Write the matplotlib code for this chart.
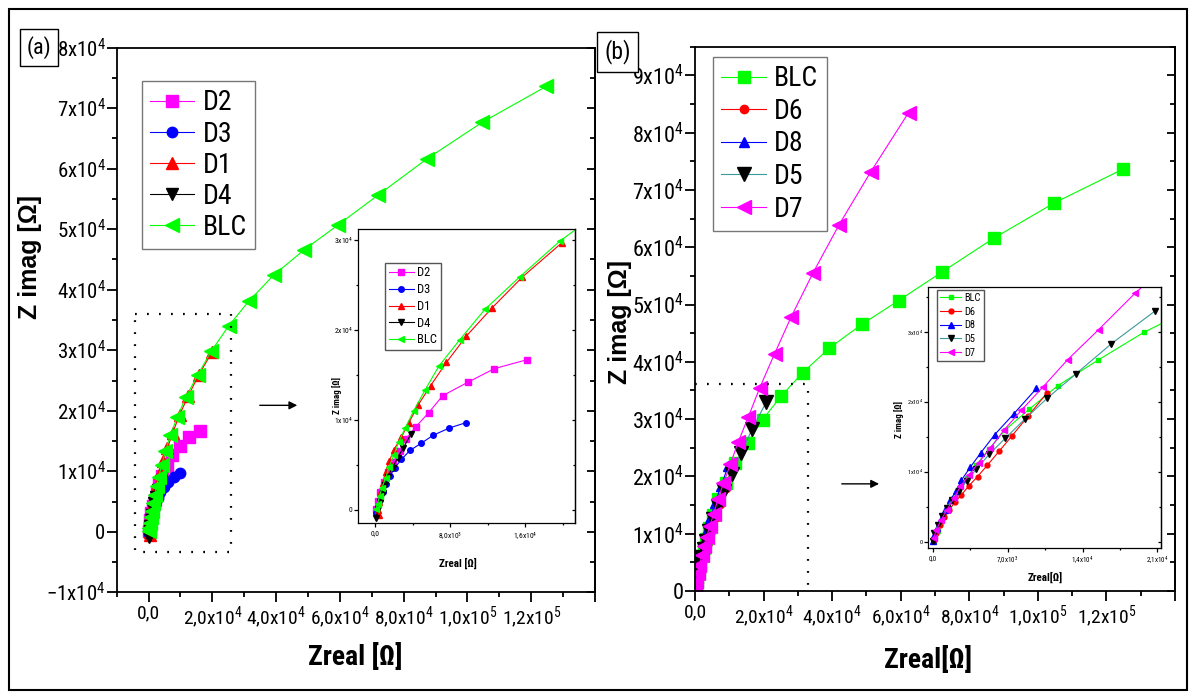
import numpy as np
import matplotlib.pyplot as plt
from matplotlib import font_manager as fm
from matplotlib.ticker import MultipleLocator
from matplotlib.patches import Rectangle

# values in kOhm (Zreal, Zimag)
blc_x = [0.1, 0.25, 0.46, 0.7, 1.1, 1.5, 2.0, 2.5, 3.2, 4.1, 5.3, 6.8, 9.0, 11.7, 15.4, 19.7,
         25.1, 31.4, 39.2, 48.8, 59.4, 72.1, 87.2, 104.7, 124.7]
blc_y = [0.1, 0.7, 1.5, 2.4, 3.5, 4.8, 6.1, 7.5, 9.1, 11.0, 13.3, 16.0, 18.9, 22.3, 25.9, 29.9,
         34.0, 38.1, 42.4, 46.6, 50.7, 55.7, 61.6, 67.7, 73.6]

# panel (a)
d1_x = [0.4, 0.35, 0.4, 0.55, 0.8, 1.1, 1.5, 2.0, 2.8, 3.6, 4.6, 5.9, 7.6, 9.7, 12.4, 15.7, 19.9]
d1_y = [-0.6, 0.0, 0.9, 1.9, 3.0, 4.2, 5.4, 6.7, 8.1, 9.7, 11.7, 13.8, 16.4, 19.3, 22.4, 25.9, 29.7]
d2_x = [0.1, 0.3, 0.55, 0.9, 1.35, 1.9, 2.6, 3.3, 4.3, 5.7, 7.2, 9.9, 12.7, 16.2]
d2_y = [0.1, 1.0, 2.0, 3.1, 4.2, 5.3, 6.5, 7.9, 9.2, 10.8, 12.7, 14.2, 15.7, 16.7]
d3_x = [0.1, 0.35, 0.5, 0.8, 1.2, 1.6, 2.1, 2.8, 3.7, 4.9, 6.2, 7.9, 9.7]
d3_y = [-0.3, 0.4, 1.1, 2.0, 2.9, 3.8, 4.7, 5.6, 6.6, 7.4, 8.3, 9.1, 9.7]
d4_x = [0.1, 0.3, 0.5, 0.8, 1.0, 1.35, 1.85, 2.4, 3.0, 3.8]
d4_y = [-0.9, 0.1, 0.9, 1.9, 2.8, 3.7, 4.7, 5.8, 6.9, 8.4]

# panel (b)
d5_x = [0.03, 0.15, 0.5, 0.9, 1.3, 1.8, 2.5, 3.2, 4.1, 5.3, 6.8, 8.6, 10.7, 13.4, 16.7, 20.8]
d5_y = [0.1, 1.2, 2.4, 3.6, 4.8, 6.0, 7.3, 8.7, 10.4, 12.5, 14.8, 17.5, 20.5, 24.0, 28.3, 33.0]
d6_x = [0.1, 0.35, 0.7, 1.1, 1.55, 2.05, 2.7, 3.4, 4.2, 5.1, 6.2, 7.4, 8.9, 10.7]
d6_y = [0.2, 1.3, 2.4, 3.5, 4.5, 5.6, 6.7, 8.0, 9.3, 10.9, 12.9, 15.1, 17.9, 21.3]
d8_x = [0.03, 0.15, 0.4, 0.8, 1.2, 1.65, 2.2, 2.7, 3.5, 4.5, 5.8, 7.6, 9.7]
d8_y = [0.1, 1.0, 2.0, 3.3, 4.5, 6.0, 7.2, 8.8, 10.6, 12.7, 15.3, 18.3, 21.9]
d7_x = [0.1, 0.35, 0.8, 1.3, 2.0, 2.6, 3.4, 4.3, 5.4, 6.7, 8.3, 10.3, 12.6, 15.5, 18.9,
        23.2, 28.1, 34.4, 42.0, 51.2, 62.3]
d7_y = [0.5, 1.7, 3.1, 4.5, 6.2, 7.9, 9.5, 11.3, 13.4, 16.0, 18.8, 22.1, 26.0, 30.3, 35.5,
        41.4, 47.9, 55.5, 63.9, 73.1, 83.5]

# ticks
a_xticks = [0, 2e4, 4e4, 6e4, 8e4, 1e5, 1.2e5, 1.4e5]
a_xlabels = ['0,0', '2,0x10^4', '4,0x10^4', '6,0x10^4', '8,0x10^4', '1,0x10^5', '1,2x10^5', '']
a_yticks = [-1e4, 0, 1e4, 2e4, 3e4, 4e4, 5e4, 6e4, 7e4, 8e4]
a_ylabels = ['-1x10^4', '0', '1x10^4', '2x10^4', '3x10^4', '4x10^4', '5x10^4', '6x10^4', '7x10^4', '8x10^4']
b_yticks = [0, 1e4, 2e4, 3e4, 4e4, 5e4, 6e4, 7e4, 8e4, 9e4]
b_ylabels = ['0', '1x10^4', '2x10^4', '3x10^4', '4x10^4', '5x10^4', '6x10^4', '7x10^4', '8x10^4', '9x10^4']
ia_xticks = [0, 8e3, 1.6e4]
ia_xlabels = ['0,0', '8,0x10^3', '1,6x10^4']
ib_xticks = [0, 7e3, 1.4e4, 2.1e4]
ib_xlabels = ['0,0', '7,0x10^3', '1,4x10^4', '2,1x10^4']
in_yticks = [0, 1e4, 2e4, 3e4]
in_ylabels = ['0', '1x10^4', '2x10^4', '3x10^4']

K = 1e3
W, H = 1191, 696


def has_font(name):
    try:
        fm.findfont(fm.FontProperties(family=name), fallback_to_default=False)
        return True
    except ValueError:
        return False


# the original uses a narrow sans (Arial Narrow look)
narrow = None
for c in ['Liberation Sans Narrow', 'Arial Narrow', 'Noto Sans Condensed', 'Roboto Condensed']:
    if has_font(c):
        narrow = c
        break
sf = 1.0
if narrow is None:
    p = fm.findfont(fm.FontProperties(family='Noto Sans', stretch='condensed'))
    if 'ondensed' in p:
        narrow = fm.FontProperties(fname=p).get_name()
        plt.rcParams['font.stretch'] = 'condensed'
    else:
        narrow = 'Liberation Sans'
        sf = 0.84
plt.rcParams['font.family'] = [narrow, 'Liberation Sans', 'DejaVu Sans']
plt.rcParams['mathtext.default'] = 'regular'


def mt(s):
    if '^' in s:
        base, e = s.split('^')
        return '$' + base.replace(',', '{,}') + '^{' + e + '}$'
    return s


def box(l, t, r, b):
    return [l / W, 1 - b / H, (r - l) / W, (b - t) / H]


def setup(ax, xlim, ylim, xt, xl, yt, yl, xmin, ymin, fsx, fsy, lmaj, lmin, lw):
    ax.set_xlim(xlim)
    ax.set_ylim(ylim)
    ax.set_xticks(xt)
    ax.set_xticklabels([mt(s) for s in xl])
    ax.set_yticks(yt)
    ax.set_yticklabels([mt(s) for s in yl])
    ax.xaxis.set_minor_locator(MultipleLocator(xmin))
    ax.yaxis.set_minor_locator(MultipleLocator(ymin))
    ax.tick_params(which='both', direction='out', top=False, right=False, width=lw, pad=1)
    ax.tick_params(axis='x', labelsize=fsx * sf, pad=2)
    ax.tick_params(axis='y', labelsize=fsy * sf)
    ax.tick_params(which='major', length=lmaj)
    ax.tick_params(which='minor', length=lmin)
    for s in ax.spines.values():
        s.set_linewidth(lw)
    sec = ax.secondary_yaxis('right')
    sec.set_yticks(yt)
    sec.yaxis.set_minor_locator(MultipleLocator(ymin))
    sec.tick_params(which='both', direction='in', labelright=False, width=lw)
    sec.tick_params(which='major', length=lmaj * 0.8)
    sec.tick_params(which='minor', length=lmin)
    sec.spines['right'].set_linewidth(lw)


def series(ax, x, y, color, marker, ms, label, lcolor=None):
    ax.plot(np.array(x) * K, np.array(y) * K, color=lcolor or color, lw=0.8,
            marker=marker, ms=ms, mfc=color, mec=color, label=label)


def legend(ax, x, y, fs, hl, ls, ec='#777777'):
    ax.legend(loc='upper left', bbox_to_anchor=(x / W, 1 - y / H), bbox_transform=fig.transFigure,
              fontsize=fs * sf, frameon=True, fancybox=False, edgecolor=ec, framealpha=1,
              handlelength=hl, handletextpad=0.3, labelspacing=ls, borderpad=0.3, borderaxespad=0)


fig = plt.figure(figsize=(W / 100, H / 100), dpi=100)
fig.add_artist(Rectangle((9 / W, 1 - 690 / H), 1178 / W, 681 / H, fill=False,
                         lw=1.5, ec='black', transform=fig.transFigure))

# ---------------- panel (a)
ax = fig.add_axes(box(116.7, 47.7, 595, 592.3))
series(ax, d2_x, d2_y, '#ff00ff', 's', 8, 'D2')
series(ax, d3_x, d3_y, '#0000ff', 'o', 7.5, 'D3')
series(ax, d1_x, d1_y, '#ff0000', '^', 8.5, 'D1')
series(ax, d4_x, d4_y, '#000000', 'v', 8.5, 'D4')
series(ax, blc_x, blc_y, '#00ff00', '<', 10, 'BLC')
setup(ax, (-1e4, 1.4e5), (-1e4, 8e4), a_xticks, a_xlabels, a_yticks, a_ylabels,
      1e4, 5e3, 14, 15, 7, 3.5, 1.3)
ax.plot([-4.2e3, 25.7e3, 25.7e3, -4.2e3, -4.2e3], [36e3, 36e3, -3.3e3, -3.3e3, 36e3],
        color='black', lw=1.6, ls=(0, (0.8, 4.6)))
ax.annotate('', xy=(47.5e3, 20.9e3), xytext=(34e3, 20.9e3),
            arrowprops=dict(arrowstyle='-|>', color='black', lw=1, mutation_scale=12))
legend(ax, 141.7, 81, 20, 1.6, 0.15)

fig.text(30 / W, 1 - 257 / H, 'Z imag [Ω]', rotation=90, fontsize=18, fontweight='bold',
         family='Liberation Sans', stretch='normal', ha='center', va='center')
fig.text(355 / W, 1 - 657 / H, 'Zreal [Ω]', fontsize=20 * sf, fontweight='bold', ha='center', va='center')
fig.text(39 / W, 1 - 47.5 / H, '(a)', fontsize=16 * sf, ha='center', va='center',
         bbox=dict(boxstyle='square,pad=0.3', fc='white', ec='black', lw=1))

# inset (a)
ia = fig.add_axes(box(358.3, 229.3, 575, 523.3))
series(ia, d2_x, d2_y, '#ff00ff', 's', 4, 'D2')
series(ia, d3_x, d3_y, '#0000ff', 'o', 4, 'D3')
series(ia, d1_x, d1_y, '#ff0000', '^', 5, 'D1')
series(ia, d4_x, d4_y, '#000000', 'v', 5, 'D4')
series(ia, blc_x, blc_y, '#00ff00', '<', 5, 'BLC')
setup(ia, (-1.8e3, 2.13e4), (-1.5e3, 3.12e4), ia_xticks, ia_xlabels, in_yticks, in_ylabels,
      4e3, 5e3, 5.5, 5.5, 3, 1.5, 0.9)
legend(ia, 385, 262.7, 9, 2.0, 0.3, ec='#555555')
fig.text(337 / W, 1 - 395 / H, 'Z imag [Ω]', rotation=90, fontsize=6.5, fontweight='bold',
         ha='center', va='center')
fig.text(458 / W, 1 - 563 / H, 'Zreal [Ω]', fontsize=8 * sf, fontweight='bold', ha='center', va='center')

# ---------------- panel (b)
bx = fig.add_axes(box(695, 46.7, 1175, 591))
series(bx, blc_x, blc_y, '#00ff00', 's', 8, 'BLC')
series(bx, d6_x, d6_y, '#ff0000', 'o', 6, 'D6')
series(bx, d8_x, d8_y, '#0000ff', '^', 7, 'D8')
series(bx, d5_x, d5_y, '#000000', 'v', 9.5, 'D5', lcolor='#3a9a9a')
series(bx, d7_x, d7_y, '#ff00ff', '<', 10, 'D7')
setup(bx, (0, 1.4e5), (0, 9.5e4), a_xticks, a_xlabels, b_yticks, b_ylabels,
      1e4, 5e3, 14, 16, 7, 3.5, 1.3)
bx.plot([0, 33e3, 33e3], [36.1e3, 36.1e3, 0], color='black', lw=1.6, ls=(0, (0.8, 4.6)))
bx.annotate('', xy=(54.5e3, 18.7e3), xytext=(42e3, 18.7e3),
            arrowprops=dict(arrowstyle='-|>', color='black', lw=1, mutation_scale=12))
legend(bx, 713, 57, 20, 1.6, 0.2)

fig.text(620 / W, 1 - 322 / H, 'Z imag [Ω]', rotation=90, fontsize=18, fontweight='bold',
         family='Liberation Sans', stretch='normal', ha='center', va='center')
fig.text(928 / W, 1 - 660 / H, 'Zreal[Ω]', fontsize=20 * sf, fontweight='bold', ha='center', va='center')
fig.text(617.5 / W, 1 - 52 / H, '(b)', fontsize=17 * sf, ha='center', va='center',
         bbox=dict(boxstyle='square,pad=0.3', fc='white', ec='black', lw=1))

# inset (b)
ib = fig.add_axes(box(928.3, 287, 1160.7, 548.3))
series(ib, blc_x, blc_y, '#00ff00', 's', 3.5, 'BLC')
series(ib, d6_x, d6_y, '#ff0000', 'o', 3.5, 'D6')
series(ib, d8_x, d8_y, '#0000ff', '^', 4, 'D8')
series(ib, d5_x, d5_y, '#000000', 'v', 4, 'D5', lcolor='#3a9a9a')
series(ib, d7_x, d7_y, '#ff00ff', '<', 4, 'D7')
setup(ib, (-0.4e3, 2.13e4), (-0.95e3, 3.64e4), ib_xticks, ib_xlabels, in_yticks, in_ylabels,
      3.5e3, 5e3, 5, 4.5, 3, 1.5, 0.9)
legend(ib, 937, 290, 7.5, 2.0, 0.35, ec='#555555')
fig.text(899 / W, 1 - 420 / H, 'Z imag [Ω]', rotation=90, fontsize=6.5, fontweight='bold',
         ha='center', va='center')
fig.text(1045 / W, 1 - 577 / H, 'Zreal[Ω]', fontsize=8 * sf, fontweight='bold', ha='center', va='center')

fig.savefig('out.png', dpi=100)
